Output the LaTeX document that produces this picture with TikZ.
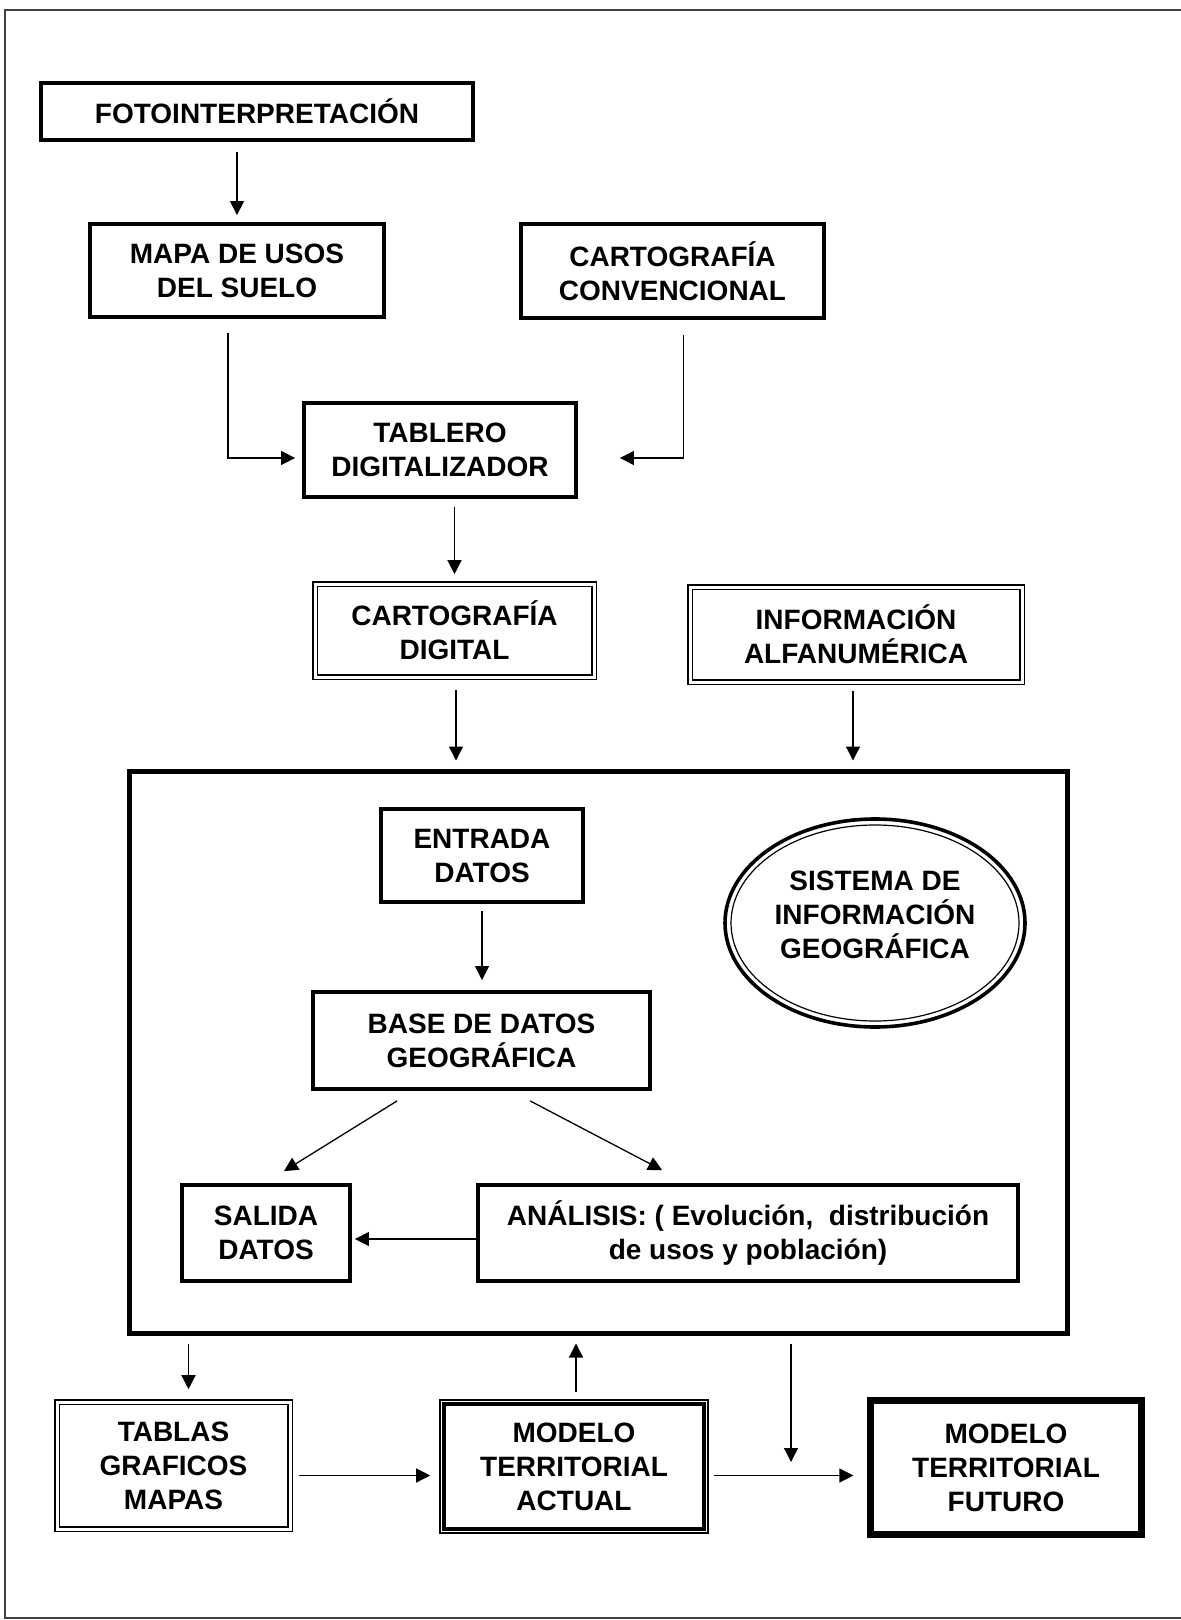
\documentclass[tikz,border=0pt]{standalone}
\usepackage{fontspec}
\setmainfont{Liberation Sans}
\usetikzlibrary{arrows.meta,shapes.geometric}
\tikzset{
  box/.style={draw,line width=1.9pt,align=center,inner sep=0pt},
  dbox/.style={draw,double,line width=0.8pt,double distance=1.5pt,align=center,inner sep=0pt},
  arr/.style={-{Triangle[length=7pt,width=7pt]},line width=0.65pt,shorten <=4pt,shorten >=4pt},
}
\begin{document}
\begin{tikzpicture}[x=0.5pt,y=-0.5pt,font=\bfseries\fontsize{14}{17}\selectfont]
\useasboundingbox (0,0) rectangle (1180,1620);
% marco
\draw[line width=1pt,black!75] (5,10) rectangle (1190,1618);

% entradas
\node[box,minimum width=216pt,minimum height=28.5pt] (foto) at (257,111.5) {FOTOINTERPRETACIÓN};
\node[box,minimum width=147pt,minimum height=46.5pt] (mapa) at (237,270.5) {MAPA DE USOS\\DEL SUELO};
\node[box,minimum width=151.5pt,minimum height=47pt] (conv) at (672.5,271) {CARTOGRAFÍA\\CONVENCIONAL};
\node[box,minimum width=136pt,minimum height=47pt] (tablero) at (440,450) {TABLERO\\DIGITALIZADOR};
\node[dbox,minimum width=139.5pt,minimum height=46.5pt] (cdig) at (454.5,630.5) {CARTOGRAFÍA\\DIGITAL};
\node[dbox,minimum width=166pt,minimum height=47.5pt] (info) at (856,634.5) {INFORMACIÓN\\ALFANUMÉRICA};

% SIG
\node[draw,line width=2.5pt,minimum width=469pt,minimum height=281pt] (sigbox) at (598,1052) {};
\node[box,minimum width=101pt,minimum height=46.5pt] (entrada) at (482,855.5) {ENTRADA\\DATOS};
\node[box,minimum width=168.5pt,minimum height=48.5pt] (base) at (481.5,1040.5) {BASE DE DATOS\\GEOGRÁFICA};
\node[draw,ellipse,line width=1.8pt,inner sep=0pt,text depth=8pt,minimum width=150pt,minimum height=104pt,align=center] (sig) at (875,923) {SISTEMA DE\\INFORMACIÓN\\GEOGRÁFICA};
\draw[line width=0.6pt] (sig.center) ellipse [x radius=144, y radius=98];
\node[box,minimum width=84pt,minimum height=48pt] (salida) at (266,1233) {SALIDA\\DATOS};
\node[box,minimum width=270pt,minimum height=48pt] (analisis) at (748,1233) {ANÁLISIS: ( Evolución,~ distribución\\de usos y población)};

% salidas
\node[dbox,minimum width=116.5pt,minimum height=63.5pt] (tablas) at (173.5,1465.5) {TABLAS\\GRAFICOS\\MAPAS};
\node[draw,line width=0.8pt,inner sep=0pt,align=center,minimum width=134pt,minimum height=66.5pt] (actual) at (574,1466.5) {MODELO\\TERRITORIAL\\ACTUAL};
\draw[line width=2.2pt] ([shift={(2.5pt,-2.5pt)}]actual.north west) rectangle ([shift={(-2.5pt,2.5pt)}]actual.south east);
\node[draw,line width=2.6pt,inner sep=0pt,align=center,minimum width=136pt,minimum height=67.5pt] (futuro) at (1006,1467.5) {MODELO\\TERRITORIAL\\FUTURO};
\draw[line width=0.6pt] ([shift={(2.8pt,-2.8pt)}]futuro.north west) rectangle ([shift={(-2.8pt,2.8pt)}]futuro.south east);
\coordinate (mid) at (791,1476);

% flechas
\draw[arr,shorten <=5pt,shorten >=3.5pt] (foto.south -| mapa.north) -- (mapa.north);
\draw[arr,shorten <=7pt,shorten >=3.5pt] ([xshift=-4.5pt]mapa.south) |- ([yshift=-4pt]tablero.west);
\draw[arr,shorten <=7.5pt,shorten >=21pt] ([xshift=5.5pt]conv.south) |- ([yshift=-4pt]tablero.east);
\draw[arr,shorten >=4.5pt] (tablero.south -| cdig.north) -- (cdig.north);
\draw[arr,shorten <=6pt] ([xshift=0.75pt]cdig.south) -- ([xshift=0.75pt]cdig.south |- sigbox.north);
\draw[arr] ([xshift=-1.5pt]info.south) -- ([xshift=-1.5pt]info.south |- sigbox.north);
\draw[arr,shorten <=3.5pt,shorten >=5pt] (entrada.south) -- (entrada.south |- base.north);
\draw[arr,shorten <=0pt,shorten >=0pt] ([shift={(43pt,-5pt)}]base.south west) -- ([shift={(9pt,6pt)}]salida.north);
\draw[arr,shorten <=0pt,shorten >=0pt] ([shift={(109.5pt,-5pt)}]base.south west) -- ([shift={(93pt,6.5pt)}]analisis.north west);
\draw[arr,shorten <=0pt,shorten >=1.5pt] ([yshift=-3pt]analisis.west) -- ([yshift=-3pt]salida.east);
\draw[arr,shorten >=6pt] ([xshift=7.5pt]tablas.north |- sigbox.south) -- ([xshift=7.5pt]tablas.north);
\draw[arr,shorten <=3.5pt] ([xshift=1pt]actual.north) -- ([xshift=1pt]actual.north |- sigbox.south);
\draw[arr,shorten >=4.5pt] ([yshift=-5pt]tablas.east) -- ([yshift=-5pt]tablas.east -| actual.west);
\draw[arr,shorten <=2.5pt,shorten >=7pt] ([yshift=-4.5pt]actual.east) -- ([yshift=-4.5pt]actual.east -| futuro.west);
\draw[arr,shorten >=7pt] (mid |- sigbox.south) -- (mid);
\end{tikzpicture}
\end{document}
